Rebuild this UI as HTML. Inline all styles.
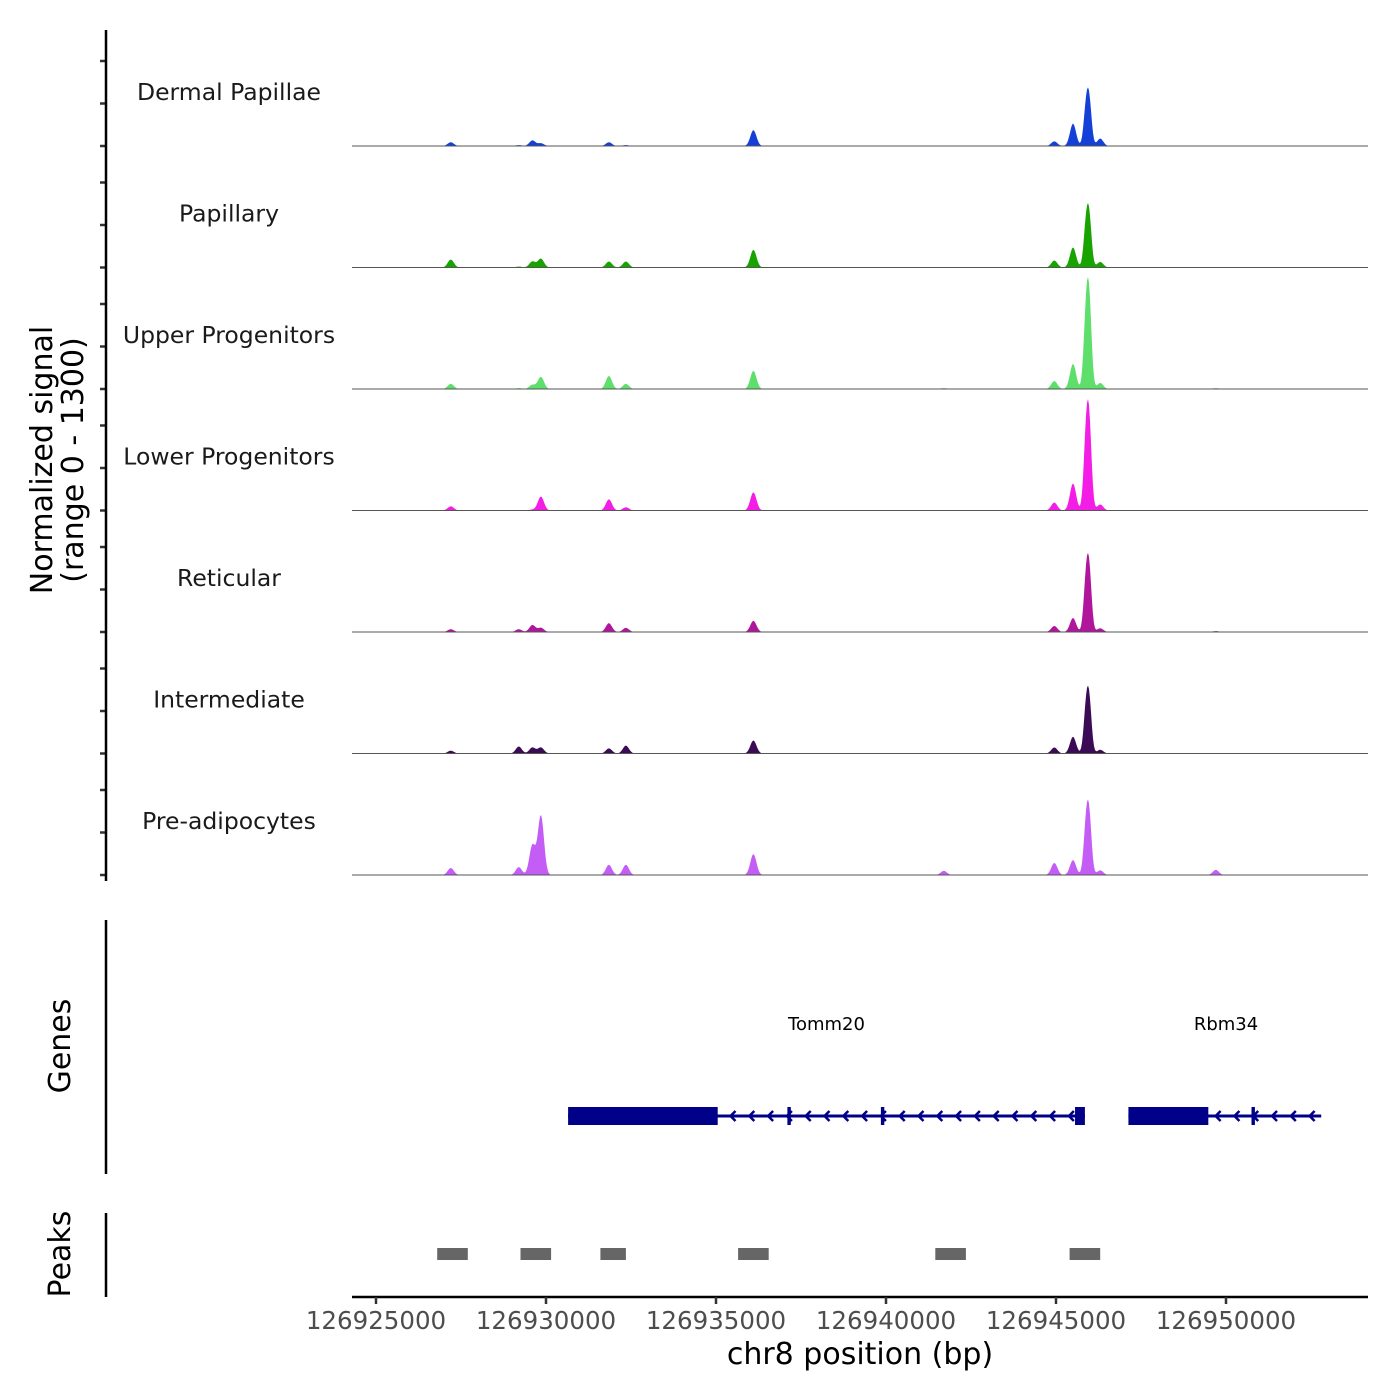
<!DOCTYPE html>
<html><head><meta charset="utf-8"><style>
html,body{margin:0;padding:0;background:#fff;}
svg{display:block;font-family:"DejaVu Sans","Liberation Sans",sans-serif;}
</style></head><body>
<svg id="chart" width="1400" height="1400" viewBox="0 0 1400 1400">
<g id="tracks"></g>
<g id="axes"></g>
</svg>
<script>
const groups = ["Dermal Papillae","Papillary","Upper Progenitors","Lower Progenitors","Reticular","Intermediate","Pre-adipocytes"];
const colors = ["#1540d8","#17a300","#5ede6b","#f41de6","#b0169c","#3b0b55","#c35df6"];
const peakPos = [126927200,126929200,126929600,126929850,126931850,126932350,126936100,126941700,126944950,126945500,126945880,126945980,126946300,126949700];
const sigDermal = [40,10,60,30,40,10,170,0,50,240,370,440,80,0];
const sigPapillary = [85,10,65,95,65,65,190,0,75,215,405,485,60,0];
const sigUpper = [55,10,45,130,140,55,195,10,85,270,710,840,65,10];
const sigLower = [45,5,10,150,120,35,195,5,85,290,705,835,65,5];
const sigReticular = [30,30,75,45,95,45,120,5,65,150,500,595,40,10];
const sigIntermediate = [30,75,65,65,55,85,140,5,65,180,430,510,40,5];
const sigPreadipo = [75,85,320,640,110,110,225,45,130,160,480,565,50,55];
const signals = [sigDermal,sigPapillary,sigUpper,sigLower,sigReticular,sigIntermediate,sigPreadipo];
const xTicks = [126925000,126930000,126935000,126940000,126945000,126950000];
const genes = ["Tomm20","Rbm34"];
const geneStart = [126930650,126947130];
const geneEnd = [126945850,126952800];
const geneLabelPos = [126938250,126950000];
const exonsStart = [[126930650,126937100,126939850,126945560],[126947130,126950750]];
const exonsEnd = [[126935050,126937200,126939950,126945850],[126949480,126950850]];
const peakStart = [126926800,126929250,126931600,126935650,126941450,126945400];
const peakEnd = [126927700,126930150,126932350,126936550,126942350,126946300];

const NS="http://www.w3.org/2000/svg";
const X0=352,X1=1368, bp0=126924294, pxPerBp=0.034;
const xs = b => 376 + (b-126925000)*pxPerBp;
const trackH=121.5, base0=146, yMax=1300, hPx=121;
function mk(tag,attrs,parent){const e=document.createElementNS(NS,tag);for(const k in attrs)e.setAttribute(k,attrs[k]);parent.appendChild(e);return e;}
const tracks=document.getElementById('tracks'), axes=document.getElementById('axes');

groups.forEach((g,i)=>{
  const base=base0+i*trackH;
  const ys = v => base - v/yMax*hPx;
  let d=`M${X0},${base}`;
  for(let px=X0;px<=X1;px+=1){
    const b=bp0+(px-X0)/pxPerBp;
    let v=0;
    peakPos.forEach((p,k)=>{const s=(p>=126945800&&p<=126946000)?70:90;const dz=(b-p)/s;v+=signals[i][k]*Math.exp(-dz*dz/2);});
    d+=` L${px},${ys(v).toFixed(2)}`;
  }
  d+=` L${X1},${base} Z`;
  const area=mk('path',{d:d,fill:colors[i]},tracks);
  
  
  const bl=mk('line',{x1:X0,x2:X1,y1:base,y2:base,stroke:'#555','stroke-width':1},tracks);
  
  
  const t=mk('text',{x:229,y:base-46,'text-anchor':'middle','font-size':23.5,fill:'#1a1a1a'},tracks);
  t.textContent=g;
  
  
  [0,42.5,85].forEach(o=>{const tk=mk('line',{x1:100,x2:106,y1:base-o,y2:base-o,stroke:'#333','stroke-width':2.5},axes);
    
    });
});
mk('line',{x1:106,x2:106,y1:30,y2:881,stroke:'#000','stroke-width':2.5},axes);
const yt=mk('text',{transform:'translate(52,460) rotate(-90)','text-anchor':'middle','font-size':30,fill:'#000'},axes);
yt.innerHTML='<tspan x="0" dy="0">Normalized signal</tspan><tspan x="0" dy="31">(range 0 - 1300)</tspan>';



// genes
mk('line',{x1:106,x2:106,y1:920,y2:1174,stroke:'#000','stroke-width':2.5},axes);
const gt=mk('text',{transform:'translate(70,1046) rotate(-90)','text-anchor':'middle','font-size':30},axes);gt.textContent='Genes';


genes.forEach((g,i)=>{
  const y=1116;
  const l=mk('line',{x1:xs(geneStart[i]),x2:xs(geneEnd[i]),y1:y,y2:y,stroke:'#000088','stroke-width':3},axes);
  
  
  for(let px=xs(geneStart[i])+12;px<xs(geneEnd[i])-4;px+=18.8){
    mk('path',{d:`M${px+5},${y-5} L${px},${y} L${px+5},${y+5}`,stroke:'#000088','stroke-width':2.5,fill:'none'},axes);
  }
  exonsStart[i].forEach((s,k)=>{
    const e=exonsEnd[i][k];
    const r=mk('rect',{x:xs(s),y:y-9,width:Math.max(3,xs(e)-xs(s)),height:18,fill:'#000088'},axes);
    
    
  });
  const lab=mk('text',{x:xs(geneLabelPos[i]),y:1030,'text-anchor':'middle','font-size':18},axes);lab.textContent=g;
  
  
});

// peaks
mk('line',{x1:106,x2:106,y1:1213,y2:1297,stroke:'#000','stroke-width':2.5},axes);
const pt=mk('text',{transform:'translate(70,1254) rotate(-90)','text-anchor':'middle','font-size':30},axes);pt.textContent='Peaks';


peakStart.forEach((s,i)=>{
  const r=mk('rect',{x:xs(s),y:1248,width:xs(peakEnd[i])-xs(s),height:12,fill:'#666'},axes);
  
  
});

// x axis
mk('line',{x1:X0,x2:X1,y1:1297,y2:1297,stroke:'#000','stroke-width':2.5},axes);
xTicks.forEach(t=>{
  mk('line',{x1:xs(t),x2:xs(t),y1:1297,y2:1304,stroke:'#333','stroke-width':2.5},axes);
  const tl=mk('text',{x:xs(t),y:1329,'text-anchor':'middle','font-size':24.5,fill:'#4d4d4d'},axes);tl.textContent=t;
  
  
});
const xt=mk('text',{x:860,y:1364,'text-anchor':'middle','font-size':30},axes);xt.textContent='chr8 position (bp)';


</script>
</body></html>
